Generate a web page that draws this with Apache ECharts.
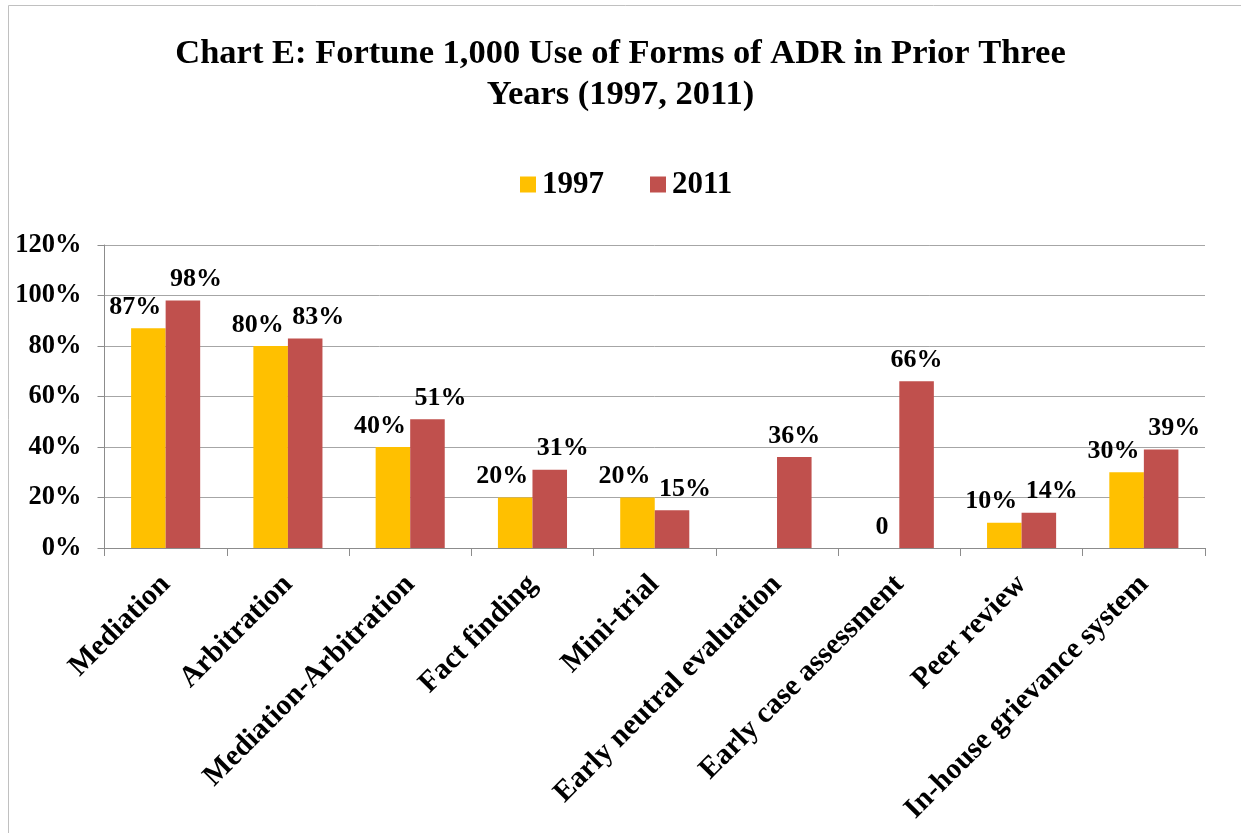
<!DOCTYPE html>
<html>
<head>
<meta charset="utf-8">
<script src="https://cdn.jsdelivr.net/npm/echarts@6/dist/echarts.min.js"></script>
<style>
html,body{margin:0;padding:0;background:#fff;}
#chart{width:1241px;height:833px;}
</style>
</head>
<body>
<div id="chart"></div>
<script>
const titleText = 'Chart E: Fortune 1,000 Use of Forms of ADR in Prior Three\nYears (1997, 2011)';
const categories = ['Mediation','Arbitration','Mediation-Arbitration','Fact finding','Mini-trial','Early neutral evaluation','Early case assessment','Peer review','In-house grievance system'];
const seriesNames = ['1997','2011'];
const values1997 = [87, 80, 40, 20, 20, null, 0, 10, 30];
const values2011 = [98, 83, 51, 31, 15, 36, 66, 14, 39];
const yTicks = [0, 20, 40, 60, 80, 100, 120];

const FONT = '"Liberation Serif", "Times New Roman", serif';
const colors = ['#FFC000', '#C0504D'];

function fmt(p){ return p.value === 0 ? '0' : p.value + '%'; }

function buildData(vals, other, shift){
  return vals.map((v, i) => {
    const o = other[i];
    const paired = v !== null && v !== 0 && o !== null && o !== 0;
    return { value: v, label: { offset: [paired ? shift : 0, 0] } };
  });
}

const chart = echarts.init(document.getElementById('chart'), null, {renderer:'canvas'});
chart.setOption({
  animation: false,
  backgroundColor: '#fff',
  color: colors,
  graphic: [{
    type: 'rect', silent: true, z: -1,
    shape: { x: 8.5, y: 5.5, width: 1400, height: 1000 },
    style: { fill: 'none', stroke: '#c0c0c0', lineWidth: 1 }
  }],
  title: {
    text: titleText,
    left: 'center', top: 29,
    textStyle: { fontFamily: FONT, fontWeight: 'bold', fontSize: 34.5, lineHeight: 41, color: '#000' }
  },
  legend: {
    data: seriesNames,
    top: 164, left: 515,
    itemWidth: 16, itemHeight: 16, itemGap: 46,
    icon: 'rect',
    textStyle: { fontFamily: FONT, fontWeight: 'bold', fontSize: 31, color: '#000', padding: [0, 0, 0, 1] }
  },
  grid: { left: 104.5, right: 36, top: 245, bottom: 285, containLabel: false },
  xAxis: {
    type: 'category',
    data: categories,
    axisLine: { lineStyle: { color: '#8c8c8c', width: 1 } },
    axisTick: { show: true, length: 8, alignWithLabel: false, lineStyle: { color: '#8c8c8c' } },
    axisLabel: { interval: 0, rotate: 45, margin: 32, fontFamily: FONT, fontWeight: 'bold', fontSize: 29.5, color: '#000' }
  },
  yAxis: {
    type: 'value',
    min: yTicks[0], max: yTicks[yTicks.length-1], interval: 20,
    axisLine: { show: true, lineStyle: { color: '#8c8c8c', width: 1 } },
    axisTick: { show: true, length: 7, lineStyle: { color: '#8c8c8c' } },
    splitLine: { lineStyle: { color: '#a6a6a6', width: 1 } },
    axisLabel: { formatter: '{value}%', margin: 23, fontFamily: FONT, fontWeight: 'bold', fontSize: 26.5, color: '#000' }
  },
  series: [
    {
      name: seriesNames[0], type: 'bar',
      data: buildData(values1997, values2011, -13),
      barGap: '0%', barCategoryGap: '43.5%',
      itemStyle: { color: colors[0] },
      label: { show: true, position: 'top', distance: 8, formatter: fmt, fontFamily: FONT, fontWeight: 'bold', fontSize: 26, color: '#000' }
    },
    {
      name: seriesNames[1], type: 'bar',
      data: buildData(values2011, values1997, 13),
      barGap: '0%', barCategoryGap: '43.5%',
      itemStyle: { color: colors[1] },
      label: { show: true, position: 'top', distance: 8, formatter: fmt, fontFamily: FONT, fontWeight: 'bold', fontSize: 26, color: '#000' }
    }
  ]
});
</script>
</body>
</html>
